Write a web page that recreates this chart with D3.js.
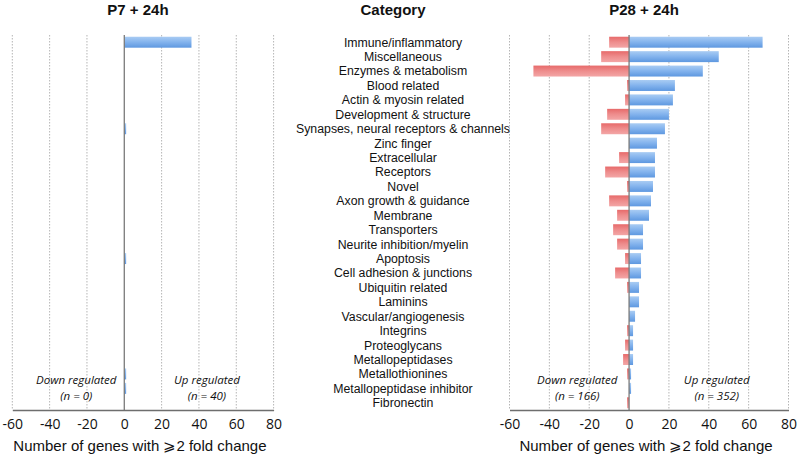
<!DOCTYPE html>
<html><head><meta charset="utf-8">
<script src="https://cdn.jsdelivr.net/npm/d3@7"></script>
<style>body{margin:0;background:#fff}svg{display:block}</style>
</head><body>
<script>
const categories = ["Immune/inflammatory","Miscellaneous","Enzymes & metabolism","Blood related","Actin & myosin related","Development & structure","Synapses, neural receptors & channels","Zinc finger","Extracellular","Receptors","Novel","Axon growth & guidance","Membrane","Transporters","Neurite inhibition/myelin","Apoptosis","Cell adhesion & junctions","Ubiquitin related","Laminins","Vascular/angiogenesis","Integrins","Proteoglycans","Metallopeptidases","Metallothionines","Metallopeptidase inhibitor","Fibronectin"];
const p7Up   = [36,0,0,0,0,0,1,0,0,0,0,0,0,0,0,1,0,0,0,0,0,0,0,1,1,0];
const p7Down = [0,0,0,0,0,0,0,0,0,0,0,0,0,0,0,0,0,0,0,0,0,0,0,0,0,0];
const p28Up   = [67,45,37,23,22,20,18,14,13,13,12,11,10,7,7,6,6,5,5,3,2,2,2,1,1,0];
const p28Down = [-10,-14,-48,-1,-2,-11,-14,0,-5,-12,-1,-10,-6,-8,-6,-2,-7,-1,0,0,-1,-2,-3,-1,0,-1];
const tickValues = [-60,-40,-20,0,20,40,60,80];
const panelTitles = ["P7 + 24h","Category","P28 + 24h"];
const annotations = [
  {down:"Down regulated", downN:"(n = 0)", up:"Up regulated", upN:"(n = 40)"},
  {down:"Down regulated", downN:"(n = 166)", up:"Up regulated", upN:"(n = 352)"}
];
const xTitle = "Number of genes with \u2A7E2 fold change";

const W=800,H=459, plotTop=35, plotBottom=410;
const svg=d3.select("body").append("svg").attr("width",W).attr("height",H);
const defs=svg.append("defs");
const gb=defs.append("linearGradient").attr("id","gBlue").attr("x1",0).attr("y1",0).attr("x2",0).attr("y2",1);
gb.append("stop").attr("offset","0%").attr("stop-color","#a9ccf3");
gb.append("stop").attr("offset","45%").attr("stop-color","#86b5ee");
gb.append("stop").attr("offset","100%").attr("stop-color","#5e98e0");
const gr=defs.append("linearGradient").attr("id","gRed").attr("x1",0).attr("y1",0).attr("x2",0).attr("y2",1);
gr.append("stop").attr("offset","0%").attr("stop-color","#e76a6a");
gr.append("stop").attr("offset","50%").attr("stop-color","#ee8d8d");
gr.append("stop").attr("offset","100%").attr("stop-color","#f3a6a6");

const y=d3.scaleBand().domain(categories).range([plotTop,plotBottom]).paddingInner(0.24).paddingOuter(0.12);

function panel(x0,x1,up,down,ann,titleText){
  const x=d3.scaleLinear().domain([-60,80]).range([x0,x1]);
  const g=svg.append("g");
  g.selectAll(".grid").data(tickValues.filter(v=>v!==0)).join("line")
    .attr("x1",d=>x(d)).attr("x2",d=>x(d)).attr("y1",plotTop).attr("y2",plotBottom)
    .attr("stroke","#b5b5b5").attr("stroke-width",1).attr("stroke-dasharray","1.5,1.5");
  g.selectAll(".up").data(categories.map((c,i)=>({c,v:up[i]})).filter(d=>d.v>0)).join("rect")
    .attr("x",x(0)).attr("width",d=>x(d.v)-x(0)).attr("y",d=>y(d.c)).attr("height",y.bandwidth())
    .attr("fill","url(#gBlue)");
  g.selectAll(".dn").data(categories.map((c,i)=>({c,v:down[i]})).filter(d=>d.v<0)).join("rect")
    .attr("x",d=>x(d.v)).attr("width",d=>x(0)-x(d.v)).attr("y",d=>y(d.c)).attr("height",y.bandwidth())
    .attr("fill","url(#gRed)");
  g.append("line").attr("x1",x(0)).attr("x2",x(0)).attr("y1",plotTop).attr("y2",plotBottom)
    .attr("stroke","#7a7a7a").attr("stroke-width",1.3);
  const ax=g.append("g").attr("transform",`translate(0,${plotBottom})`)
    .call(d3.axisBottom(x).tickValues(tickValues).tickSize(0).tickPadding(9).tickFormat(d=>String(d)));
  ax.select(".domain").attr("stroke","#6e6e6e").attr("stroke-width",1.6);
  ax.selectAll("text").attr("font-family","'Open Sans',sans-serif").attr("font-size",14).attr("fill","#111");
  const cx=(x0+x1)/2;
  g.append("text").attr("x",cx-3).attr("y",451).attr("text-anchor","middle")
    .attr("font-family","'Liberation Sans',Arial,sans-serif").attr("font-size",15).attr("fill","#111").text(xTitle);
  g.append("text").attr("x",cx-5).attr("y",15).attr("text-anchor","middle")
    .attr("font-family","'Liberation Sans',Arial,sans-serif").attr("font-weight","bold").attr("font-size",15).attr("fill","#111").text(titleText);
  const dnx=(x(-60)+x(0))/2, upx=(x(0)+x(80))/2+8;
  const at=(tx,ty,s)=>g.append("text").attr("x",tx).attr("y",ty).attr("text-anchor","middle")
    .attr("font-family","'Open Sans',sans-serif").attr("font-style","italic").attr("font-size",11.5).attr("fill","#111").text(s);
  at(dnx+8,384,ann.down); at(dnx+8,400,ann.downN); at(upx,384,ann.up); at(upx,400,ann.upN);
}
panel(12.3,273.6,p7Up,p7Down,annotations[0],panelTitles[0]);
panel(509.5,788.5,p28Up,p28Down,annotations[1],panelTitles[2]);

svg.append("g").selectAll("text").data(categories).join("text")
  .attr("x",403).attr("y",d=>y(d)+y.bandwidth()/2).attr("dy","0.36em").attr("text-anchor","middle")
  .attr("font-family","'Liberation Sans',Arial,sans-serif").attr("font-size",12.3).attr("fill","#111").text(d=>d);
svg.append("text").attr("x",393).attr("y",15).attr("text-anchor","middle")
  .attr("font-family","'Liberation Sans',Arial,sans-serif").attr("font-weight","bold").attr("font-size",15).attr("fill","#111").text(panelTitles[1]);
</script>
</body></html>
